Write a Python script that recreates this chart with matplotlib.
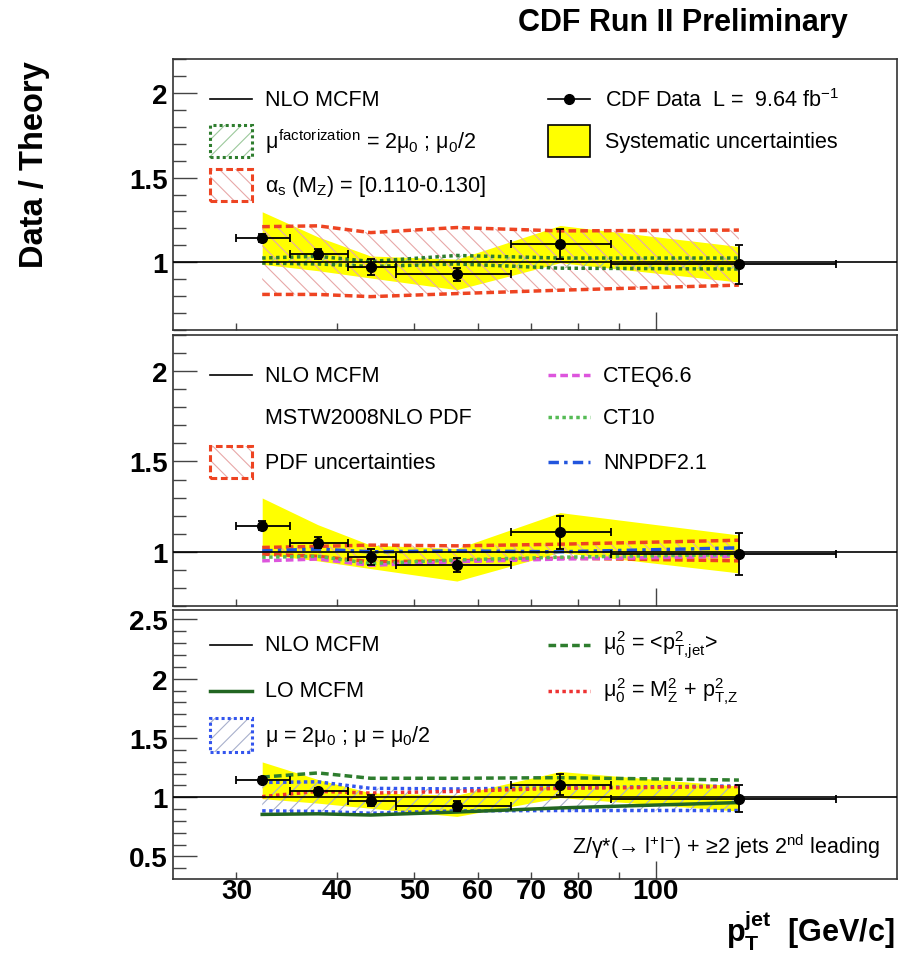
import matplotlib
matplotlib.use('Agg')
import matplotlib.pyplot as plt
from matplotlib.patches import Rectangle
from matplotlib.lines import Line2D
from matplotlib.ticker import FixedLocator, FixedFormatter, NullFormatter
import numpy as np

plt.rcParams['font.family'] = ['Liberation Sans', 'DejaVu Sans']
plt.rcParams['mathtext.fontset'] = 'custom'
plt.rcParams['mathtext.rm'] = 'Liberation Sans'
plt.rcParams['mathtext.it'] = 'Liberation Sans'
plt.rcParams['mathtext.sf'] = 'Liberation Sans'
plt.rcParams['mathtext.bf'] = 'Liberation Sans:bold'
plt.rcParams['hatch.linewidth'] = 0.8

# --- data ---
pt = [32.3, 37.9, 44.1, 56.5, 76.0, 127.0]
pt_lo = [30, 35, 41.3, 47.5, 66, 88]
pt_hi = [35, 41.3, 47.5, 66, 88, 168]
ratio = [1.143, 1.050, 0.972, 0.928, 1.107, 0.988]
stat = [0.025, 0.03, 0.045, 0.04, 0.09, 0.115]
syst = [0.155, 0.10, 0.065, 0.09, 0.11, 0.105]

# top panel: scale / alpha_s variations
muf_up = [1.025, 1.035, 1.005, 1.04, 1.025, 1.025]
muf_dn = [0.995, 0.99, 0.975, 0.99, 0.965, 0.96]
as_up = [1.21, 1.215, 1.175, 1.205, 1.185, 1.19]
as_dn = [0.81, 0.81, 0.797, 0.815, 0.835, 0.865]

# middle panel: PDFs
pdf_up = [1.024, 1.03, 1.037, 1.033, 1.042, 1.064]
pdf_dn = [0.987, 0.975, 0.945, 0.95, 0.965, 0.95]
cteq66 = [0.95, 0.96, 0.925, 0.945, 0.96, 0.975]
ct10 = [0.97, 0.975, 0.935, 0.955, 0.97, 0.985]
nnpdf21 = [1.005, 1.015, 1.0, 1.005, 1.0, 1.022]

# bottom panel: scale choices
mu_up = [1.125, 1.13, 1.075, 1.07, 1.08, 1.095]
mu_dn = [0.885, 0.88, 0.865, 0.885, 0.888, 0.888]
mu0_jet = [1.17, 1.205, 1.16, 1.16, 1.165, 1.145]
mu0_mz = [1.005, 1.05, 1.035, 1.05, 1.075, 1.09]
lo_mcfm = [0.855, 0.86, 0.85, 0.875, 0.91, 0.955]

xticks = [30, 40, 50, 60, 70, 80, 90]
xticklabels = ['30', '40', '50', '60', '70', '80', '']

pt = np.array(pt)
ratio = np.array(ratio)
syst = np.array(syst)
xerr = [pt - np.array(pt_lo), np.array(pt_hi) - pt]

RED = '#ee4422'
DKGREEN = '#2e7d2e'
LFS = 15.5

fig = plt.figure(figsize=(8.98, 9.54), dpi=100)
L, W = 173 / 898, 724 / 898
ax1 = fig.add_axes([L, 1 - 331 / 954, W, 271 / 954])
ax2 = fig.add_axes([L, 1 - 607 / 954, W, 271 / 954])
ax3 = fig.add_axes([L, 1 - 880 / 954, W, 269 / 954])
ylims = [(0.6, 2.2), (0.7, 2.2), (0.31, 2.58)]


def common(ax, ylim, majors, labels=False):
    ax.set_xscale('log')
    ax.set_xlim(25, 200)
    ax.set_ylim(*ylim)
    ax.xaxis.set_major_locator(FixedLocator([100]))
    ax.xaxis.set_minor_locator(FixedLocator(xticks))
    if labels:
        ax.xaxis.set_major_formatter(FixedFormatter(['100']))
        ax.xaxis.set_minor_formatter(FixedFormatter(xticklabels))
    else:
        ax.xaxis.set_major_formatter(NullFormatter())
        ax.xaxis.set_minor_formatter(NullFormatter())
    ax.yaxis.set_major_locator(FixedLocator(majors))
    ax.yaxis.set_minor_locator(FixedLocator(np.round(np.arange(0.1, 2.7, 0.1), 2)))
    ax.set_yticklabels(['%g' % m for m in majors])
    ax.tick_params(axis='both', which='both', direction='in', top=False, right=False,
                   color='#444444', width=1.0)
    ax.tick_params(axis='y', which='major', length=17, labelsize=20, pad=4)
    ax.tick_params(axis='y', which='minor', length=9)
    ax.tick_params(axis='x', which='major', length=13, labelsize=20, pad=-1)
    ax.tick_params(axis='x', which='minor', length=5, labelsize=20, pad=-1)
    for lab in ax.get_xticklabels(which='both') + ax.get_yticklabels():
        lab.set_fontweight('bold')
    for s in ax.spines.values():
        s.set_linewidth(1.2)
        s.set_color('#333333')
    # systematic band and NLO reference line
    ax.fill_between(pt, ratio - syst, ratio + syst, color='#ffff00', lw=0, zorder=1)
    ax.axhline(1.0, color='black', lw=1.2, zorder=4)


def band(ax, lo, hi, hcol, hatch, lcol, ls, lw=2.5):
    ax.fill_between(pt, lo, hi, facecolor='none', edgecolor=hcol, hatch=hatch, lw=0, zorder=2)
    ax.plot(pt, hi, color=lcol, ls=ls, lw=lw, zorder=3)
    ax.plot(pt, lo, color=lcol, ls=ls, lw=lw, zorder=3)


def data(ax):
    ax.errorbar(pt, ratio, yerr=stat, xerr=xerr, fmt='o', color='black', ms=7,
                elinewidth=1.3, capsize=3, capthick=1.3, zorder=6)


# legend helpers (axes-fraction layout)
XS, XT = 0.051, 0.127
XS2, XT2 = 0.518, 0.597
SW = 0.058


def leg_line(ax, x, y, text, **kw):
    ax.add_line(Line2D([x, x + SW], [y, y], transform=ax.transAxes, **kw))
    ax.text(x + (XT - XS), y, text, transform=ax.transAxes, fontsize=LFS, va='center')


def leg_box(ax, x, y, text, hcol, hatch, ecol, ls, h=0.118):
    ax.add_patch(Rectangle((x, y - h / 2), SW, h, transform=ax.transAxes, facecolor='none',
                           edgecolor=hcol, hatch=hatch, lw=0))
    ax.add_patch(Rectangle((x, y - h / 2), SW, h, transform=ax.transAxes, facecolor='none',
                           edgecolor=ecol, ls=ls, lw=2.2))
    ax.text(x + (XT - XS), y, text, transform=ax.transAxes, fontsize=LFS, va='center')


# ---- top panel ----
common(ax1, ylims[0], [1, 1.5, 2])
band(ax1, as_dn, as_up, '#e8a8a8', '\\\\', RED, (0, (2.2, 1.2)))
band(ax1, muf_dn, muf_up, '#9cc89c', '//', DKGREEN, (0, (1, 1)))
data(ax1)
leg_line(ax1, XS, 0.852, 'NLO MCFM', color='black', lw=1.2)
leg_box(ax1, XS, 0.697, r'$\mu^{\rm factorization}$ = 2$\mu_0$ ; $\mu_0$/2',
        '#9cc89c', '//', DKGREEN, (0, (1, 1)))
leg_box(ax1, XS, 0.535, r'$\alpha_{\rm s}$ (M$_{\rm Z}$) = [0.110-0.130]',
        '#e8a8a8', '\\\\', RED, (0, (2.2, 1.2)))
ax1.add_line(Line2D([XS2, XS2 + SW], [0.852, 0.852], transform=ax1.transAxes,
                    color='black', lw=1.2))
ax1.add_line(Line2D([XS2 + SW / 2], [0.852], transform=ax1.transAxes, color='black',
                    marker='o', ms=7))
ax1.text(XT2, 0.852, r'CDF Data  L =  9.64 fb$^{-1}$', transform=ax1.transAxes,
         fontsize=LFS, va='center')
ax1.add_patch(Rectangle((XS2, 0.697 - 0.059), SW, 0.118, transform=ax1.transAxes,
                        facecolor='#ffff00', edgecolor='black', lw=1.2))
ax1.text(XT2, 0.697, 'Systematic uncertainties', transform=ax1.transAxes,
         fontsize=LFS, va='center')

# ---- middle panel ----
common(ax2, ylims[1], [1, 1.5, 2])
band(ax2, pdf_dn, pdf_up, '#e8a8a8', '\\\\', RED, (0, (2.2, 1.2)))
ax2.plot(pt, cteq66, color='#dd55dd', ls=(0, (2.2, 1.2)), lw=2.5, zorder=3)
ax2.plot(pt, ct10, color='#55bb55', ls=(0, (1, 1)), lw=2.5, zorder=3)
ax2.plot(pt, nnpdf21, color='#2255dd', ls=(0, (3, 1.5, 1, 1.5)), lw=2.5, zorder=3)
data(ax2)
leg_line(ax2, XS, 0.852, 'NLO MCFM', color='black', lw=1.2)
ax2.text(XT, 0.697, 'MSTW2008NLO PDF', transform=ax2.transAxes, fontsize=LFS, va='center')
leg_box(ax2, XS, 0.531, 'PDF uncertainties', '#e8a8a8', '\\\\', RED, (0, (2.2, 1.2)))
leg_line(ax2, XS2, 0.852, 'CTEQ6.6', color='#dd55dd', ls=(0, (2.2, 1.2)), lw=2.5)
leg_line(ax2, XS2, 0.697, 'CT10', color='#55bb55', ls=(0, (1, 1)), lw=2.5)
leg_line(ax2, XS2, 0.531, 'NNPDF2.1', color='#2255dd', ls=(0, (3, 1.5, 1, 1.5)), lw=2.5)

# ---- bottom panel ----
common(ax3, ylims[2], [0.5, 1, 1.5, 2, 2.5], labels=True)
band(ax3, mu_dn, mu_up, '#a8b0cc', '//', '#3355ee', (0, (1, 1)))
ax3.plot(pt, mu0_jet, color=DKGREEN, ls=(0, (2.2, 1.2)), lw=2.5, zorder=3)
ax3.plot(pt, mu0_mz, color='#ee3333', ls=(0, (1, 1)), lw=2.5, zorder=3)
ax3.plot(pt, lo_mcfm, color='#226622', lw=2.5, zorder=3)
data(ax3)
leg_line(ax3, XS, 0.871, 'NLO MCFM', color='black', lw=1.2)
leg_line(ax3, XS, 0.700, 'LO MCFM', color='#226622', lw=2.5)
leg_box(ax3, XS, 0.535, r'$\mu$ = 2$\mu_0$ ; $\mu$ = $\mu_0$/2', '#a8b0cc', '//',
        '#3355ee', (0, (1, 1)), h=0.125)
leg_line(ax3, XS2, 0.871, r'$\mu_0^2$ = <p$^2_{\rm T{,}jet}$>', color=DKGREEN,
         ls=(0, (2.2, 1.2)), lw=2.5)
leg_line(ax3, XS2, 0.700, r'$\mu_0^2$ = M$_{\rm Z}^2$ + p$^2_{\rm T{,}Z}$', color='#ee3333',
         ls=(0, (1, 1)), lw=2.5)
ax3.text(0.977, 0.125, 'Z/γ*(→ l$^{+}$l$^{-}$) + ≥2 jets 2$^{\\rm nd}$ leading',
         transform=ax3.transAxes, fontsize=LFS, ha='right', va='center')

fig.text(518 / 898, 1 - 23 / 954, 'CDF Run II Preliminary', fontsize=22, fontweight='bold',
         ha='left', va='center')
fig.text(35 / 898, 1 - 165 / 954, 'Data / Theory', fontsize=23.5, fontweight='bold',
         rotation=90, ha='center', va='center')
fig.text(895 / 898, 1 - 943 / 954, r'$\mathbf{p_{T}^{jet}}$  [GeV/c]', fontsize=22,
         fontweight='bold', ha='right', va='baseline')

fig.savefig('out.png', dpi=100)
